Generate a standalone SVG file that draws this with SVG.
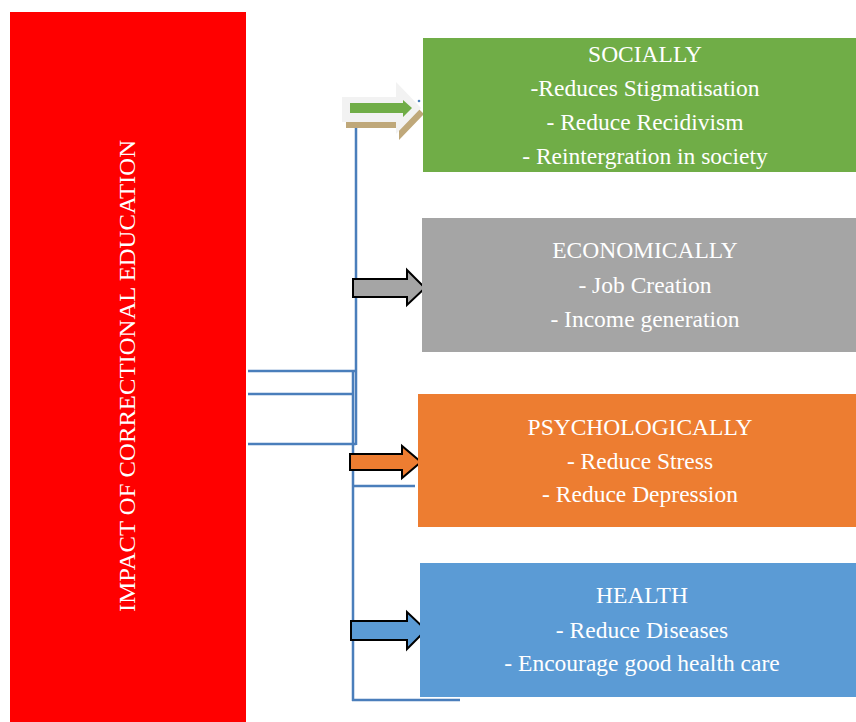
<svg xmlns="http://www.w3.org/2000/svg" width="856" height="722" viewBox="0 0 856 722">
  <style>
    text { font-family: 'Liberation Serif', Tinos, 'Times New Roman', 'DejaVu Serif', serif; font-size: 23.5px; fill: #ffffff; text-anchor: middle; }
    .conn { stroke: #4A7EBB; stroke-width: 2.5; fill: none; }
    .block { stroke: #000000; stroke-width: 2; stroke-linejoin: miter; }
  </style>
  <rect width="856" height="722" fill="#ffffff"/>

  <!-- left title column -->
  <g id="title">
    <rect x="10" y="12" width="236" height="710" fill="#FF0000"/>
    <text font-family="Liberation Serif, serif" transform="translate(135 376) rotate(-90)" textLength="472" lengthAdjust="spacingAndGlyphs">IMPACT OF CORRECTIONAL EDUCATION</text>
  </g>

  <!-- connector lines -->
  <g id="connectors">
    <line class="conn" x1="356" y1="110" x2="356" y2="445"/>
    <line class="conn" x1="353" y1="370" x2="353" y2="701"/>
    <line class="conn" x1="248" y1="371" x2="356" y2="371"/>
    <line class="conn" x1="248" y1="394" x2="353" y2="394"/>
    <line class="conn" x1="248" y1="444" x2="356" y2="444"/>
    <line class="conn" x1="354" y1="486" x2="415" y2="486"/>
    <line class="conn" x1="352" y1="700" x2="460" y2="700"/>
  </g>

  <!-- arrows -->
  <g id="arrow-social">
    <polygon points="346,122 399,122 399,90 424,114 399,140 399,128 346,128" fill="#BFA87A"/>
    <polygon points="342,97 396,97 396,82 421,108 396,134 396,122 342,122" fill="#F2F2F2"/>
    <polygon points="350,103 403,103 403,100 412,108 403,117 403,113 350,113" fill="#70AD47"/>
    <circle cx="419" cy="101" r="1.3" fill="#4A7EBB"/>
  </g>
  <g id="arrow-economic">
    <polygon class="block" points="353,279 407,279 407,270 425,288 407,305 407,297 353,297" fill="#A5A5A5"/>
  </g>
  <g id="arrow-psych">
    <polygon class="block" points="350,454 402,454 402,446 421,462 402,478 402,470 350,470" fill="#ED7D31"/>
  </g>
  <g id="arrow-health">
    <polygon class="block" points="351,621 407,621 407,612 426,630 407,649 407,640 351,640" fill="#5B9BD5"/>
  </g>

  <!-- outcome boxes -->
  <g id="socially" font-family="Liberation Serif, serif">
    <rect x="423" y="38" width="433" height="134" fill="#70AD47"/>
    <text x="645" y="62">SOCIALLY</text>
    <text x="645" y="96">-Reduces Stigmatisation</text>
    <text x="645" y="130">- Reduce Recidivism</text>
    <text x="645" y="164">- Reintergration in society</text>
  </g>
  <g id="economically">
    <rect x="422" y="218" width="434" height="134" fill="#A5A5A5"/>
    <text x="645" y="258">ECONOMICALLY</text>
    <text x="645" y="293">- Job Creation</text>
    <text x="645" y="327">- Income generation</text>
  </g>
  <g id="psychologically">
    <rect x="418" y="394" width="438" height="133" fill="#ED7D31"/>
    <text x="640" y="435">PSYCHOLOGICALLY</text>
    <text x="640" y="469">- Reduce Stress</text>
    <text x="640" y="502">- Reduce Depression</text>
  </g>
  <g id="health">
    <rect x="420" y="563" width="436" height="134" fill="#5B9BD5"/>
    <text x="642" y="603">HEALTH</text>
    <text x="642" y="638">- Reduce Diseases</text>
    <text x="642" y="671">- Encourage good health care</text>
  </g>
</svg>
